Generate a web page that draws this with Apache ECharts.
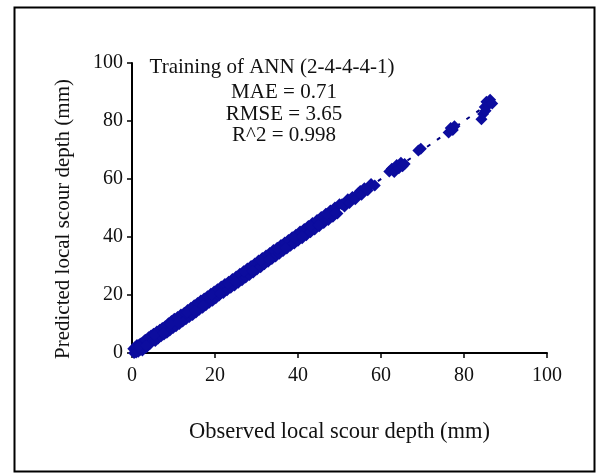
<!DOCTYPE html>
<html>
<head>
<meta charset="utf-8">
<script src="https://cdn.jsdelivr.net/npm/echarts@6/dist/echarts.min.js"></script>
<style>html,body{margin:0;padding:0;background:#fff}#c{width:596px;height:473px}</style>
</head>
<body>
<div id="c"></div>
<script>
var xTicks = [0, 20, 40, 60, 80, 100];
var yTicks = [0, 20, 40, 60, 80, 100];
var annotationLines = ['Training of ANN (2-4-4-4-1)', 'MAE = 0.71', 'RMSE = 3.65', 'R^2 = 0.998'];
var xTitle = 'Observed local scour depth (mm)';
var yTitle = 'Predicted local scour depth (mm)';

var observed = [
0.3,0.5,0.8,1.0,1.2,1.5,1.8,2.0,2.2,2.5,2.8,3.0,3.2,3.5,3.8,4.0,4.3,4.6,5.0,5.2,5.6,6.0,6.3,6.7,7.0,7.3,7.7,8.0,8.4,8.8,9.1,9.5,9.9,
10.2,10.6,11.0,11.4,11.8,12.2,12.6,13.0,13.4,13.8,14.2,14.6,15.0,15.4,15.8,16.2,16.6,17.0,17.4,17.8,18.2,18.6,19.0,19.4,19.8,
20.2,20.6,21.0,21.5,22.0,22.4,22.9,23.3,23.8,24.2,24.7,25.1,25.6,26.0,26.5,26.9,27.4,27.8,28.3,28.7,29.2,29.6,
30.1,30.5,31.0,31.4,31.9,32.3,32.8,33.2,33.7,34.1,34.6,35.0,35.5,35.9,36.4,36.8,37.3,37.7,38.2,38.6,39.1,39.5,
40.0,40.5,41.0,41.5,42.0,42.5,43.0,43.5,44.0,44.6,45.1,45.6,46.2,46.7,47.3,47.8,48.4,48.9,49.5,50.0,
1.6,3.4,5.4,7.5,9.3,11.2,13.2,15.2,17.2,19.2,21.2,23.1,25.0,27.0,29.0,31.0,33.0,35.0,37.0,39.0,41.0,43.0,45.0,47.0,49.0,52.0,55.0,
50.6,51.2,51.8,52.4,53.1,53.8,54.5,55.3,56.0,56.8,57.6,58.5,
62.0,62.6,63.2,63.8,64.3,64.8,65.2,65.7,
69.0,69.6,76.3,76.8,77.3,77.7,
84.2,84.6,85.0,85.4,85.9,86.3,86.8,85.2
];
var predicted = [
1.5,0.0,2.1,0.2,2.8,0.4,3.0,1.1,3.4,0.9,4.0,1.6,4.6,2.0,2.9,5.4,3.1,6.0,4.2,6.6,4.1,7.4,5.0,8.0,5.8,8.6,6.4,9.2,7.0,10.3,7.8,11.0,8.6,
11.8,9.2,12.4,10.0,13.3,10.9,13.9,11.6,14.8,12.4,15.6,13.1,16.5,14.0,17.2,14.9,18.1,15.6,18.8,16.5,19.6,17.3,20.4,18.0,21.2,
18.9,22.0,19.8,22.9,20.7,23.8,21.6,24.6,22.5,25.5,23.3,26.4,24.2,27.3,25.1,28.2,26.0,29.1,26.9,30.0,27.8,30.9,
28.8,31.9,29.6,32.8,30.6,33.6,31.5,34.5,32.4,35.5,33.3,36.3,34.2,37.2,35.2,38.1,36.0,39.0,37.0,39.9,37.8,40.8,
38.7,41.9,39.6,42.8,40.6,43.8,41.6,44.8,42.6,45.9,43.7,46.9,44.8,48.0,45.9,49.1,47.0,50.2,48.1,51.3,
2.2,2.6,6.3,6.9,10.1,10.5,14.0,14.5,16.4,20.1,20.6,24.0,24.4,28.1,28.3,31.9,32.2,35.9,36.2,39.8,40.2,43.9,44.1,47.9,48.2,53.0,55.9,
51.3,50.5,52.4,51.7,53.8,53.0,55.1,54.6,56.8,56.1,58.3,57.8,
62.6,63.5,62.4,64.8,63.7,65.6,64.4,65.2,
69.8,70.4,76.0,77.6,76.9,78.2,
80.6,82.4,84.8,86.6,85.6,87.3,86.0,83.5
];
var trendX = [0, 87];
var trendY = [0, 87];

var points = observed.map(function (v, i) { return [v, predicted[i]]; });
var trend = trendX.map(function (v, i) { return [v, trendY[i]]; });

var FONT = 'Liberation Serif';
var chart = echarts.init(document.getElementById('c'), null, {renderer: 'canvas'});
var axisCommon = {
  type: 'value', min: 0, max: 100, interval: 20,
  splitLine: {show: false},
  axisLine: {show: true, lineStyle: {color: '#000', width: 2}},
  axisTick: {show: true, inside: false, length: 5, lineStyle: {color: '#000', width: 1.5}},
  axisLabel: {color: '#111', fontFamily: FONT, fontSize: 20},
  nameLocation: 'middle'
};
chart.setOption({
  animation: false,
  backgroundColor: '#fff',
  grid: {left: 132, right: 49, top: 63, bottom: 120, containLabel: false},
  xAxis: Object.assign({}, axisCommon, {
    name: xTitle, nameGap: 68,
    nameTextStyle: {color: '#111', fontFamily: FONT, fontSize: 22.5},
    axisLabel: Object.assign({}, axisCommon.axisLabel, {margin: 13, formatter: function (v) { return xTicks.indexOf(v) >= 0 ? String(v) : ''; }})
  }),
  yAxis: Object.assign({}, axisCommon, {
    name: yTitle, nameGap: 58,
    nameTextStyle: {color: '#111', fontFamily: FONT, fontSize: 21, padding: [0, 22, 0, 0]},
    axisLabel: Object.assign({}, axisCommon.axisLabel, {margin: 9, formatter: function (v) { return yTicks.indexOf(v) >= 0 ? String(v) : ''; }})
  }),
  graphic: [
    {type: 'rect', left: 12, top: 5, shape: {width: 580, height: 464}, style: {fill: 'none', stroke: '#000', lineWidth: 2}, silent: true},
    {type: 'text', x: 272, y: 57, style: {text: annotationLines[0], font: '21px "Liberation Serif"', fill: '#111', textAlign: 'center'}}
  ].concat(annotationLines.slice(1).map(function (t, i) {
    return {type: 'text', x: 284, y: 82 + i * 21.5, style: {text: t, font: '21px "Liberation Serif"', fill: '#111', textAlign: 'center'}};
  })),
  series: [
    {type: 'line', data: trend, symbol: 'none', lineStyle: {color: '#000080', width: 2, type: [4, 8]}, z: 1},
    {type: 'scatter', data: points, symbol: 'diamond', symbolSize: 12, itemStyle: {color: '#0c0c9e', opacity: 1}, z: 2}
  ]
});
</script>
</body>
</html>
